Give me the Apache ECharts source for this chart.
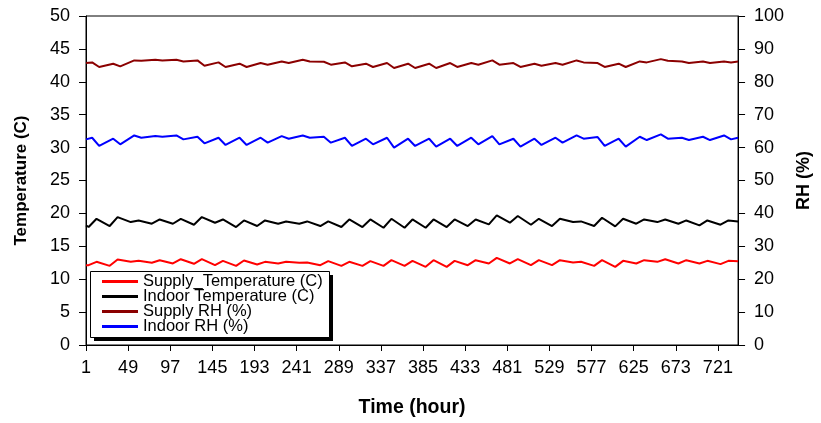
<!DOCTYPE html>
<html>
<head>
<meta charset="utf-8">
<script src="https://cdn.jsdelivr.net/npm/echarts@6/dist/echarts.min.js"></script>
<style>html,body{margin:0;padding:0;background:#fff}#c{width:821px;height:423px}</style>
</head>
<body>
<div id="c"></div>
<script>
// Categories: hours 1..744
const hours = [];
for (let h = 1; h <= 744; h++) hours.push(String(h));

// Sample hours of readings (daily trough / peak of temperatures, daily peak / trough of RH)
const tempHours = [1];
for (let k = 0; k <= 30; k++) { tempHours.push(24 * k + 4, 24 * k + 13); }
tempHours.push(744);
const rhHours = [1];
for (let k = 0; k <= 30; k++) { rhHours.push(24 * k + 8, 24 * k + 16); }
rhHours.push(744);

// Values
const supplyTemp = [12.13, 12.13,12.64, 12.03,12.99, 12.64,12.79, 12.49,12.89, 12.39,13.04, 12.34,13.04, 12.13,12.79, 12.03,12.84, 12.24,12.64, 12.39,12.64, 12.49,12.54, 12.13,12.74, 12.03,12.64, 12.03,12.74, 12.03,12.89, 12.03,12.79, 11.88,12.89, 11.88,12.79, 12.13,12.89, 12.39,13.24, 12.39,13.04, 12.13,12.89, 12.13,12.89, 12.54,12.64, 12.03,12.89, 11.88,12.79, 12.39,12.89, 12.64,13.04, 12.39,12.89, 12.39,12.79, 12.29,12.79, 12.74];
const indoorTemp = [18.18, 17.93,19.18, 18.08,19.44, 18.68,18.93, 18.43,19.08, 18.43,19.18, 18.28,19.44, 18.58,19.08, 17.93,18.93, 18.08,18.93, 18.43,18.78, 18.43,18.78, 18.08,18.78, 17.93,19.08, 17.93,19.08, 17.82,19.18, 17.82,19.08, 17.82,19.08, 17.93,19.08, 18.08,19.08, 18.33,19.69, 18.58,19.6, 18.28,19.18, 18.08,19.18, 18.68,18.78, 18.08,19.34, 18.03,19.18, 18.43,19.08, 18.68,19.08, 18.43,18.93, 18.18,18.93, 18.28,18.93, 18.78];
const supplyRH = [85.7, 85.9,84.5, 85.5,84.7, 86.5,86.4, 86.7,86.5, 86.7,86.2, 86.5,84.9, 85.9,84.5, 85.5,84.5, 85.7,85.2, 86.2,85.7, 86.7,86.2, 86.1,85.2, 85.9,84.7, 85.5,84.5, 85.7,84.2, 85.5,84.2, 85.5,84.2, 85.7,84.5, 85.7,85.2, 86.5,85.2, 85.7,84.5, 85.5,84.9, 85.7,85.2, 86.5,85.9, 85.7,84.5, 85.5,84.5, 86.2,85.9, 86.9,86.4, 86.2,85.7, 86.2,85.7, 86.2,85.9, 86.2];
const indoorRH = [62.5, 63.0,60.5, 62.7,61.0, 63.7,63.0, 63.5,63.3, 63.7,62.5, 63.3,61.3, 63.0,60.8, 63.0,60.8, 63.0,61.5, 63.5,62.7, 63.7,63.0, 63.3,61.5, 63.0,60.5, 62.7,61.0, 63.0,60.0, 62.7,60.5, 62.7,60.3, 62.7,60.5, 63.0,61.0, 63.5,61.0, 62.7,60.3, 62.7,60.8, 63.0,61.5, 63.7,62.7, 63.2,60.5, 62.7,60.3, 63.3,62.3, 64.0,62.7, 63.0,62.3, 63.3,62.3, 63.7,62.5, 63.0];

const seriesNames = ['Supply_Temperature (C)', 'Indoor Temperature (C)', 'Supply RH (%)', 'Indoor RH (%)'];
const seriesColors = ['#ff0000', '#000000', '#8b0000', '#0000ff'];

function pairs(hs, vs) {
  const out = [];
  const n = Math.min(hs.length, vs.length);
  for (let i = 0; i < n; i++) out.push([hs[i] - 1, vs[i]]);
  return out;
}

const FONT = 'Liberation Sans, Arial, sans-serif';
const chart = echarts.init(document.getElementById('c'), null, { renderer: 'canvas' });

const mkSeries = (i, data, yIdx) => ({
  name: seriesNames[i], type: 'line', yAxisIndex: yIdx, data: data,
  showSymbol: false, symbol: 'none', smooth: false,
  lineStyle: { color: seriesColors[i], width: 2 },
  itemStyle: { color: seriesColors[i] },
  emphasis: { disabled: true }, z: 3
});

chart.setOption({
  animation: false,
  backgroundColor: '#ffffff',
  grid: { left: 86, right: 68, top: 16, bottom: 76, show: true, borderColor: '#000', borderWidth: 1, backgroundColor: 'transparent' },
  graphic: [
    { type: 'rect', z: 50, left: 94, top: 275, shape: { width: 239, height: 66 }, style: { fill: '#000' }, silent: true },
    { type: 'rect', z: 51, left: 90, top: 271, shape: { width: 239, height: 66 }, style: { fill: '#fff', stroke: '#000', lineWidth: 1 }, silent: true }
  ],
  legend: {
    orient: 'vertical', left: 90, top: 271, z: 60,
    data: seriesNames.map((n, i) => ({ name: n, icon: 'rect', itemStyle: { color: seriesColors[i] } })),
    itemWidth: 36, itemHeight: 3, itemGap: -2,
    padding: [2, 16, 4, 12],
    backgroundColor: 'transparent', borderWidth: 0,
    textStyle: { fontFamily: FONT, fontSize: 16.5, color: '#000' },
    selectedMode: false
  },
  xAxis: {
    type: 'category', data: hours, boundaryGap: false,
    name: 'Time (hour)', nameLocation: 'middle', nameGap: 53,
    nameTextStyle: { fontFamily: FONT, fontSize: 19.5, fontWeight: 'bold', color: '#000' },
    axisLine: { lineStyle: { color: '#000', width: 1 } },
    axisTick: { show: true, interval: 47, inside: false, length: 6, lineStyle: { color: '#000' } },
    axisLabel: { interval: 47, fontFamily: FONT, fontSize: 18, color: '#000', margin: 14 },
    splitLine: { show: false }
  },
  yAxis: [
    {
      type: 'value', min: 0, max: 50, interval: 5, position: 'left',
      name: 'Temperature (C)', nameLocation: 'middle', nameGap: 56, nameRotate: 90,
      nameTextStyle: { fontFamily: FONT, fontSize: 17, fontWeight: 'bold', color: '#000' },
      axisLine: { show: true, lineStyle: { color: '#000', width: 1 } },
      axisTick: { show: true, inside: false, length: 7, lineStyle: { color: '#000' } },
      axisLabel: { fontFamily: FONT, fontSize: 18, color: '#000', margin: 16 },
      splitLine: { show: false }
    },
    {
      type: 'value', min: 0, max: 100, interval: 10, position: 'right',
      name: 'RH (%)', nameLocation: 'middle', nameGap: 51, nameRotate: 90,
      nameTextStyle: { fontFamily: FONT, fontSize: 18, fontWeight: 'bold', color: '#000' },
      axisLine: { show: true, lineStyle: { color: '#000', width: 1 } },
      axisTick: { show: true, inside: false, length: 7, lineStyle: { color: '#000' } },
      axisLabel: { fontFamily: FONT, fontSize: 18, color: '#000', margin: 16 },
      splitLine: { show: false }
    }
  ],
  series: [
    mkSeries(0, pairs(tempHours, supplyTemp), 0),
    mkSeries(1, pairs(tempHours, indoorTemp), 0),
    mkSeries(2, pairs(rhHours, supplyRH), 1),
    mkSeries(3, pairs(rhHours, indoorRH), 1)
  ]
});
</script>
</body>
</html>
